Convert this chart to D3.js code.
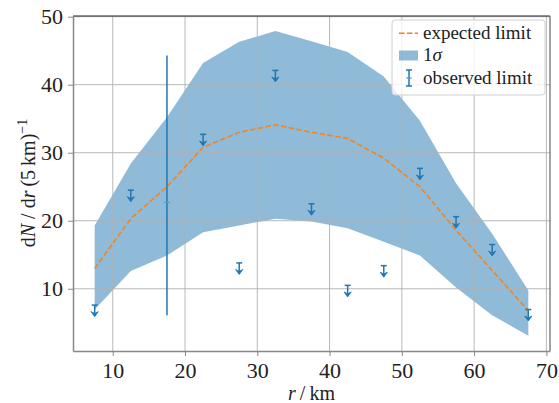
<!DOCTYPE html>
<html>
<head>
<meta charset="utf-8">
<script src="https://cdn.jsdelivr.net/npm/d3@7"></script>
<style>
  body { margin: 0; background: white; }
  text { font-family: "Liberation Serif", "DejaVu Serif", serif; fill: #222; }
</style>
</head>
<body>
<div id="chart"></div>
<script>
// bin centres (km)
const binX = [7.5, 12.5, 17.5, 22.5, 27.5, 32.5, 37.5, 42.5, 47.5, 52.5, 57.5, 62.5, 67.5];
const expectedLimit = [13.0, 20.3, 25.0, 30.8, 33.0, 34.1, 33.0, 32.1, 29.2, 25.0, 18.6, 12.7, 6.8];
const bandUpper = [19.3, 28.4, 35.2, 43.2, 46.3, 47.9, 46.4, 44.8, 41.2, 34.7, 25.5, 18.1, 9.75];
const bandLower = [6.95, 12.6, 14.9, 18.3, 19.3, 20.3, 19.9, 18.9, 16.9, 14.9, 10.2, 6.1, 3.1];

// observed upper limits (cap value) and arrow length
const limitX = [7.5, 12.5, 22.5, 27.5, 32.5, 37.5, 42.5, 47.5, 52.5, 57.5, 62.5, 67.5];
const limitY = [7.6, 24.5, 32.7, 13.8, 42.1, 22.5, 10.5, 13.4, 27.7, 20.6, 16.5, 6.95];
const limitErr = 1.7;

// one measured point with a two-sided error bar
const measX = [17.5];
const measY = [22.7];
const measLo = [6.1];
const measHi = [44.3];

const xTicks = [10, 20, 30, 40, 50, 60, 70];
const yTicks = [10, 20, 30, 40, 50];

const W = 559, H = 403;
const mLeft = 73, mRight = 550, mTop = 16, mBottom = 351;
const blue = '#1f77b4', orange = '#ff7f0e';

const x = d3.scaleLinear().domain([4.5, 70.5]).range([mLeft, mRight]);
const y = d3.scaleLinear().domain([0.85, 50.1]).range([mBottom, mTop]);

const svg = d3.select('#chart').append('svg')
    .attr('width', W)
    .attr('height', H);

// 1 sigma band
const area = d3.area()
    .x((d, i) => x(binX[i]))
    .y0((d, i) => y(bandLower[i]))
    .y1((d, i) => y(bandUpper[i]));
svg.append('path')
    .attr('d', area(binX))
    .attr('fill', blue)
    .attr('fill-opacity', 0.5);

// grid
svg.append('g')
    .selectAll('line')
    .data(xTicks)
    .enter().append('line')
    .attr('x1', d => x(d)).attr('x2', d => x(d))
    .attr('y1', mTop).attr('y2', mBottom)
    .attr('stroke', '#b0b0b0').attr('stroke-width', 0.9);
svg.append('g')
    .selectAll('line')
    .data(yTicks)
    .enter().append('line')
    .attr('x1', mLeft).attr('x2', mRight)
    .attr('y1', d => y(d)).attr('y2', d => y(d))
    .attr('stroke', '#b0b0b0').attr('stroke-width', 0.9);

// expected limit
svg.append('path')
    .attr('d', d3.line().x((d, i) => x(binX[i])).y(d => y(d))(expectedLimit))
    .attr('fill', 'none')
    .attr('stroke', orange)
    .attr('stroke-width', 1.5)
    .attr('stroke-dasharray', '5.5,2.4');

// measured point
const meas = svg.append('g').selectAll('g')
    .data(measX.map((v, i) => ({x: v, y: measY[i], lo: measLo[i], hi: measHi[i]})))
    .enter().append('g');
meas.append('line')
    .attr('x1', d => x(d.x)).attr('x2', d => x(d.x))
    .attr('y1', d => y(d.hi)).attr('y2', d => y(d.lo))
    .attr('stroke', blue).attr('stroke-width', 1.5);
meas.append('line')
    .attr('x1', d => x(d.x) - 3).attr('x2', d => x(d.x) + 3)
    .attr('y1', d => y(d.y)).attr('y2', d => y(d.y))
    .attr('stroke', '#5b9bd0').attr('stroke-width', 1.5);

// upper limits: cap at value, arrow pointing down
const lims = svg.append('g').selectAll('g')
    .data(limitX.map((v, i) => ({x: v, y: limitY[i]})))
    .enter().append('g');
lims.append('line')
    .attr('x1', d => x(d.x)).attr('x2', d => x(d.x))
    .attr('y1', d => y(d.y)).attr('y2', d => y(d.y - limitErr) - 2)
    .attr('stroke', blue).attr('stroke-width', 1.5);
lims.append('line')
    .attr('x1', d => x(d.x) - 3).attr('x2', d => x(d.x) + 3)
    .attr('y1', d => y(d.y)).attr('y2', d => y(d.y))
    .attr('stroke', blue).attr('stroke-width', 1.5);
lims.append('path')
    .attr('d', d => {
      const cx = x(d.x), ty = y(d.y - limitErr);
      return 'M' + (cx - 3.6) + ',' + (ty - 5) + 'L' + cx + ',' + ty + 'L' + (cx + 3.6) + ',' + (ty - 5) + 'L' + cx + ',' + (ty - 3.2) + 'Z';
    })
    .attr('fill', blue).attr('stroke', blue).attr('stroke-width', 0.8);

// spines
svg.append('line').attr('x1', mLeft).attr('x2', mRight).attr('y1', mTop).attr('y2', mTop)
    .attr('stroke', '#222').attr('stroke-width', 1.2);
svg.append('line').attr('x1', mRight).attr('x2', mRight).attr('y1', mTop).attr('y2', mBottom)
    .attr('stroke', '#666').attr('stroke-width', 1.2);

// axes
const xAxis = svg.append('g')
    .attr('transform', 'translate(0,' + mBottom + ')')
    .call(d3.axisBottom(x).tickValues(xTicks).tickSize(5).tickPadding(4).tickSizeOuter(0));
const yAxis = svg.append('g')
    .attr('transform', 'translate(' + mLeft + ',0)')
    .call(d3.axisLeft(y).tickValues(yTicks).tickSize(5).tickPadding(5).tickSizeOuter(0));
[xAxis, yAxis].forEach(a => {
  a.attr('font-family', null);
  a.select('.domain').attr('stroke', '#888').attr('stroke-width', 1.5);
  a.selectAll('.tick line').attr('stroke', '#888').attr('stroke-width', 1);
  a.selectAll('.tick text')
      .style('font-family', '"Liberation Serif", serif')
      .style('font-size', '22px')
      .attr('fill', '#222');
});
xAxis.selectAll('.tick text').attr('dy', '0.82em');

// axis labels
svg.append('text')
    .attr('x', (mLeft + mRight) / 2)
    .attr('y', 400)
    .attr('text-anchor', 'middle')
    .style('font-size', '20px')
    .html('<tspan font-style="italic">r</tspan>\u2009/\u2009km');

svg.append('text')
    .attr('transform', 'translate(35,' + 183 + ') rotate(-90)')
    .attr('text-anchor', 'middle')
    .style('font-size', '20px')
    .html('d<tspan font-style="italic">N</tspan> / d<tspan font-style="italic">r</tspan>\u2009(5\u2009km)<tspan dy="-8" font-size="14px">\u22121</tspan>');

// legend
const lg = svg.append('g');
lg.append('rect')
    .attr('x', 392).attr('y', 20).attr('width', 153).attr('height', 75)
    .attr('rx', 3)
    .attr('fill', 'white').attr('fill-opacity', 0.8)
    .attr('stroke', '#d0d0d0').attr('stroke-width', 1);
lg.append('line')
    .attr('x1', 399).attr('x2', 418).attr('y1', 33.3).attr('y2', 33.3)
    .attr('stroke', orange).attr('stroke-width', 1.5).attr('stroke-dasharray', '5.5,2.4');
lg.append('rect')
    .attr('x', 399).attr('y', 50.5).attr('width', 19).attr('height', 10)
    .attr('fill', blue).attr('fill-opacity', 0.5);
lg.append('line')
    .attr('x1', 409).attr('x2', 409).attr('y1', 70).attr('y2', 86)
    .attr('stroke', blue).attr('stroke-width', 1.5);
[70, 86].forEach(v => lg.append('line')
    .attr('x1', 406).attr('x2', 412).attr('y1', v).attr('y2', v)
    .attr('stroke', blue).attr('stroke-width', 1.5));
lg.append('line')
    .attr('x1', 406.5).attr('x2', 411.5).attr('y1', 78).attr('y2', 78)
    .attr('stroke', '#5b9bd0').attr('stroke-width', 1.5);

const legendLabels = ['expected limit', '1\u03c3', 'observed limit'];
const legendY = [38.5, 61, 83.5];
lg.selectAll('text.leg')
    .data(legendLabels)
    .enter().append('text')
    .attr('class', 'leg')
    .attr('x', 423)
    .attr('y', (d, i) => legendY[i])
    .style('font-size', '19px')
    .html(d => d === '1\u03c3' ? '1<tspan font-style="italic">\u03c3</tspan>' : d);
</script>
</body>
</html>
